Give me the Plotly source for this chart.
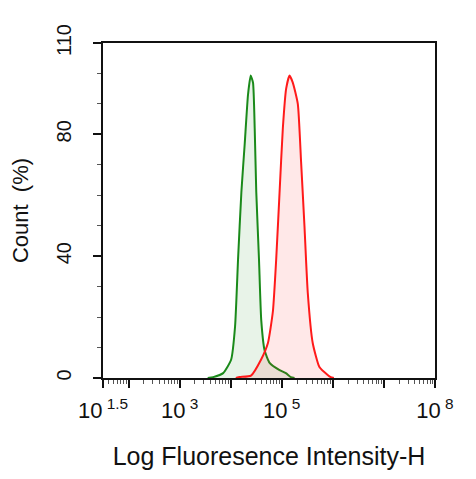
import math
import plotly.graph_objects as go

# Histogram traces (x as log10 of intensity, y as count %)
green_log = [3.55, 3.657, 3.852, 4.008, 4.086, 4.144, 4.209, 4.275, 4.339, 4.392, 4.437,
             4.470, 4.501, 4.554, 4.598, 4.665, 4.762, 4.957, 5.080, 5.177, 5.25]
green_cnt = [0, 0.3, 1.6, 6, 17, 39, 61, 77, 93, 99.3, 97,
             82, 61, 39, 19, 9, 5, 2.6, 1.6, 0.3, 0]

red_log = [4.10, 4.177, 4.398, 4.593, 4.729, 4.827, 4.891, 4.957, 5.021, 5.086, 5.152,
           5.216, 5.314, 5.378, 5.444, 5.509, 5.606, 5.737, 5.899, 5.957, 6.02]
red_cnt = [0, 0.3, 0.8, 6, 11.5, 22, 39, 61, 82, 95, 99.3,
           97, 90, 71, 50, 28, 11.5, 3.6, 1, 0.3, 0]

x_tick_exp = [1.5, 2, 3, 4, 5, 6, 7, 8]
x_tick_text = ["10<sup> 1.5</sup>", "", "10<sup> 3</sup>", "", "10<sup> 5</sup>", "", "", "10<sup> 8</sup>"]
y_tick_vals = [0, 40, 80, 110]
y_minor_vals = [10, 20, 30, 50, 60, 70, 90, 100]

x_minor = [m * 10 ** d for d in range(1, 8) for m in range(2, 10)
           if 1.5 < math.log10(m * 10 ** d) < 8]

fig = go.Figure()
fig.add_trace(go.Scatter(
    x=[10 ** v for v in green_log], y=green_cnt, mode="lines",
    line=dict(color="#1a8a1a", width=2, shape="spline", smoothing=0.5),
    fill="tozeroy", fillcolor="rgba(26,138,26,0.10)", showlegend=False))
fig.add_trace(go.Scatter(
    x=[10 ** v for v in red_log], y=red_cnt, mode="lines",
    line=dict(color="#ff1a1a", width=2, shape="spline", smoothing=0.5),
    fill="tozeroy", fillcolor="rgba(255,26,26,0.10)", showlegend=False))

fig.update_layout(
    width=468, height=471,
    margin=dict(l=90, r=41, t=35, b=101),
    paper_bgcolor="white", plot_bgcolor="white",
    font=dict(family="Liberation Sans, Arial, sans-serif", size=18, color="#111"),
)
fig.update_xaxes(
    type="log", range=[1.5, 8],
    tickmode="array", tickvals=[10 ** e for e in x_tick_exp], ticktext=x_tick_text,
    ticks="outside", ticklen=8, tickwidth=1.5, tickcolor="#111",
    minor=dict(tickmode="array", tickvals=x_minor, ticks="outside", ticklen=4,
               tickwidth=1, tickcolor="#555", showgrid=False),
    showline=True, linecolor="#111", linewidth=2, mirror=True,
    showgrid=False, zeroline=False,
    tickfont=dict(size=22), ticklabelstandoff=4,
    title=dict(text="Log Fluoresence Intensity-H", font=dict(size=25), standoff=25),
)
fig.update_yaxes(
    range=[0, 110],
    tickmode="array", tickvals=y_tick_vals, tickangle=-90,
    ticks="outside", ticklen=8, tickwidth=1.5, tickcolor="#111",
    minor=dict(tickmode="array", tickvals=y_minor_vals, ticks="outside", ticklen=4,
               tickwidth=1, tickcolor="#555", showgrid=False),
    showline=True, linecolor="#111", linewidth=2, mirror=True,
    showgrid=False, zeroline=False,
    tickfont=dict(size=20), ticklabelstandoff=14,
    title=dict(text="Count\u00a0 (%)", font=dict(size=22), standoff=18),
)

fig.write_html("out.html")
